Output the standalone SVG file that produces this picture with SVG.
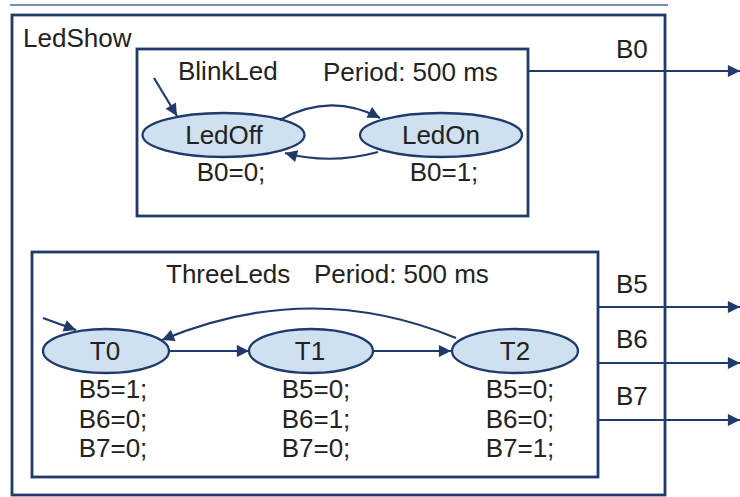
<svg xmlns="http://www.w3.org/2000/svg" width="740" height="497" viewBox="0 0 740 497">
<defs>
<style>
.box{fill:none;stroke:#1f3a6b;stroke-width:2.8}
.st{fill:#cfe1f1;stroke:#1f3a6b;stroke-width:2.3}
.ln{fill:none;stroke:#1f3a6b;stroke-width:2.2}
.t{font-family:"Liberation Sans",Arial,sans-serif;font-size:26px;fill:#222}
.c{text-anchor:middle}
</style>
<marker id="ah" viewBox="0 0 10 10" refX="10" refY="5" markerWidth="7.5" markerHeight="5.5" markerUnits="strokeWidth" orient="auto">
<path d="M0,0L10,5L0,10z" fill="#1f3a6b"/>
</marker>
</defs>
<rect width="740" height="497" fill="#fff"/>
<line x1="10" y1="5" x2="668" y2="5" stroke="#4a6a90" stroke-width="1.5"/>
<g id="LedShow">
<rect class="box" x="12" y="15" width="653" height="480"/>
<text class="t" x="23" y="47">LedShow</text>
</g>
<g id="BlinkLed">
<rect class="box" x="137" y="49" width="391" height="167"/>
<text class="t" x="178" y="80">BlinkLed</text>
<text class="t" x="323" y="81">Period: 500 ms</text>
</g>
<g id="LedOff">
<ellipse class="st" cx="223.5" cy="135" rx="81" ry="22"/>
<text class="t c" x="224" y="144">LedOff</text>
<text class="t c" x="231" y="181">B0=0;</text>
</g>
<g id="LedOn">
<ellipse class="st" cx="441" cy="135" rx="81" ry="22"/>
<text class="t c" x="441" y="144">LedOn</text>
<text class="t c" x="444" y="181">B0=1;</text>
</g>
<g id="ThreeLeds">
<rect class="box" x="32" y="252" width="566" height="225"/>
<text class="t" x="166" y="283">ThreeLeds</text>
<text class="t" x="314" y="283">Period: 500 ms</text>
</g>
<g id="T0">
<ellipse class="st" cx="106" cy="351" rx="63" ry="22"/>
<text class="t c" x="105" y="360">T0</text>
<text class="t c" x="113" y="398">B5=1;</text>
<text class="t c" x="113" y="428">B6=0;</text>
<text class="t c" x="113" y="457">B7=0;</text>
</g>
<g id="T1">
<ellipse class="st" cx="311" cy="351" rx="62" ry="22"/>
<text class="t c" x="310" y="360">T1</text>
<text class="t c" x="316" y="398">B5=0;</text>
<text class="t c" x="316" y="428">B6=1;</text>
<text class="t c" x="316" y="457">B7=0;</text>
</g>
<g id="T2">
<ellipse class="st" cx="515" cy="351" rx="63" ry="22"/>
<text class="t c" x="515" y="360">T2</text>
<text class="t c" x="520" y="398">B5=0;</text>
<text class="t c" x="520" y="428">B6=0;</text>
<text class="t c" x="520" y="457">B7=1;</text>
</g>
<g id="connectors">
<path class="ln" d="M154,78L177,116" marker-end="url(#ah)"/>
<path class="ln" d="M280,120Q330,92 380,118" marker-end="url(#ah)"/>
<path class="ln" d="M378,152Q330,165 285,153" marker-end="url(#ah)"/>
<path class="ln" d="M43,318L76,330" marker-end="url(#ah)"/>
<path class="ln" d="M169,351L249,351" marker-end="url(#ah)"/>
<path class="ln" d="M373,351L451,351" marker-end="url(#ah)"/>
<path class="ln" d="M456,338Q310,278 162,340" marker-end="url(#ah)"/>
<path class="ln" d="M528,71L740,71" marker-end="url(#ah)"/>
<path class="ln" d="M598,307L740,307" marker-end="url(#ah)"/>
<path class="ln" d="M598,363L740,363" marker-end="url(#ah)"/>
<path class="ln" d="M598,420L740,420" marker-end="url(#ah)"/>
<text class="t" x="616" y="58">B0</text>
<text class="t" x="616" y="293">B5</text>
<text class="t" x="616" y="348">B6</text>
<text class="t" x="616" y="405">B7</text>
</g>
</svg>
